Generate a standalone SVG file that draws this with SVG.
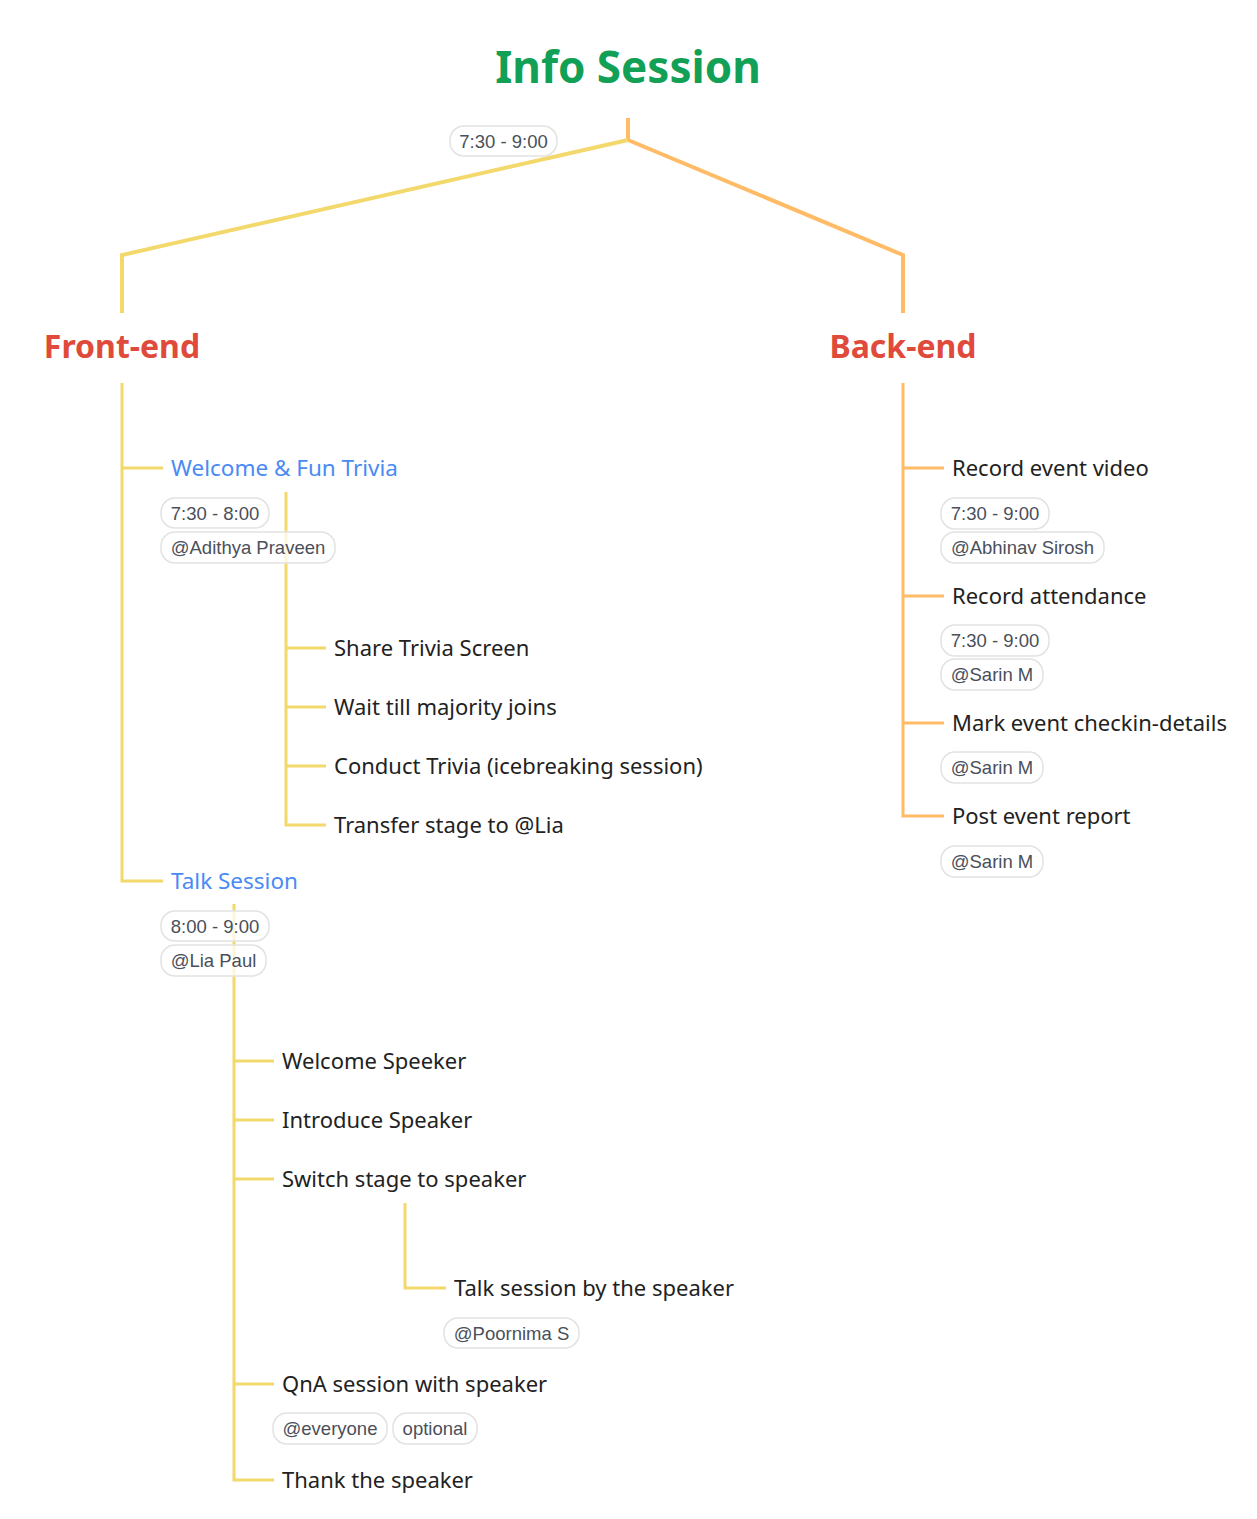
<svg xmlns="http://www.w3.org/2000/svg" width="1257" height="1519" viewBox="0 0 1257 1519">
<style>
.y{fill:none;stroke:#F3D86C;stroke-width:3}
.o{fill:none;stroke:#FFBB66;stroke-width:3}
.yt{fill:none;stroke:#F3D86C;stroke-width:4}
.ot{fill:none;stroke:#FFBB66;stroke-width:4}
.title{font-family:"Noto Sans","Open Sans",sans-serif;font-weight:bold;font-size:44px;fill:#11A055}
.main{font-family:"Noto Sans","Open Sans",sans-serif;font-weight:bold;font-size:32px;fill:#E04A3A}
.sub{font-family:"Noto Sans","Open Sans",sans-serif;font-size:22.5px;fill:#4A8AF4}
.item{font-family:"Noto Sans","Open Sans",sans-serif;font-size:22px;fill:#222}
.tag rect{fill:#fff;fill-opacity:0.75;stroke:#E2E2E2;stroke-width:1.5}
.tag text{font-family:"Liberation Sans",Arial,sans-serif;font-size:18.5px;fill:#4A4F5A}
</style>
<rect width="1257" height="1519" fill="#fff"/>
<g id="connectors">
<path class="ot" d="M628 118 V140 L903 255 V313"/>
<path class="yt" d="M628 140 L122 255 V313"/>
<path class="y" d="M122 383 V881 H163 M122 468 H163"/>
<path class="y" d="M286 492 V825 H326 M286 648 H326 M286 707 H326 M286 766 H326"/>
<path class="y" d="M234 904 V1480 H274 M234 1061 H274 M234 1120 H274 M234 1179 H274 M234 1384 H274"/>
<path class="y" d="M405 1203 V1288 H446"/>
<path class="o" d="M903 383 V816 H944 M903 468 H944 M903 596 H944 M903 723 H944"/>
</g>
<g id="root"><text class="title" x="628" y="83" text-anchor="middle">Info Session</text></g>
<g id="root-tag" class="tag"><rect x="450" y="126" width="107" height="30" rx="14"/><text x="503.5" y="147.5" text-anchor="middle">7:30 - 9:00</text></g>
<g id="frontend"><text class="main" x="122" y="358" text-anchor="middle">Front-end</text></g>
<g id="backend"><text class="main" x="903" y="358" text-anchor="middle">Back-end</text></g>
<g id="welcome"><text class="sub" x="171" y="476">Welcome &amp; Fun Trivia</text>
<g class="tag"><rect x="161" y="498" width="108" height="30" rx="14"/><text x="215" y="519.5" text-anchor="middle">7:30 - 8:00</text>
<rect x="161" y="532" width="174" height="31" rx="14"/><text x="248" y="554" text-anchor="middle">@Adithya Praveen</text></g></g>
<g id="share"><text class="item" x="334" y="656">Share Trivia Screen</text></g>
<g id="wait"><text class="item" x="334" y="715">Wait till majority joins</text></g>
<g id="conduct"><text class="item" x="334" y="774">Conduct Trivia (icebreaking session)</text></g>
<g id="transfer"><text class="item" x="334" y="833">Transfer stage to @Lia</text></g>
<g id="talk"><text class="sub" x="171" y="889">Talk Session</text>
<g class="tag"><rect x="161" y="911" width="108" height="30" rx="14"/><text x="215" y="932.5" text-anchor="middle">8:00 - 9:00</text>
<rect x="161" y="945" width="105" height="31" rx="14"/><text x="213.5" y="967" text-anchor="middle">@Lia Paul</text></g></g>
<g id="welcome-speaker"><text class="item" x="282" y="1069">Welcome Speeker</text></g>
<g id="introduce"><text class="item" x="282" y="1128">Introduce Speaker</text></g>
<g id="switch"><text class="item" x="282" y="1187">Switch stage to speaker</text></g>
<g id="talk-by"><text class="item" x="454" y="1296">Talk session by the speaker</text>
<g class="tag"><rect x="444" y="1318" width="135" height="30" rx="14"/><text x="511.5" y="1339.5" text-anchor="middle">@Poornima S</text></g></g>
<g id="qna"><text class="item" x="282" y="1392">QnA session with speaker</text>
<g class="tag"><rect x="273" y="1413" width="114" height="31" rx="14"/><text x="330" y="1435" text-anchor="middle">@everyone</text>
<rect x="393" y="1413" width="84" height="31" rx="14"/><text x="435" y="1435" text-anchor="middle">optional</text></g></g>
<g id="thank"><text class="item" x="282" y="1488">Thank the speaker</text></g>
<g id="record-video"><text class="item" x="952" y="476">Record event video</text>
<g class="tag"><rect x="941" y="498" width="108" height="31" rx="14"/><text x="995" y="520" text-anchor="middle">7:30 - 9:00</text>
<rect x="941" y="532" width="163" height="31" rx="14"/><text x="1022.5" y="554" text-anchor="middle">@Abhinav Sirosh</text></g></g>
<g id="record-attendance"><text class="item" x="952" y="604">Record attendance</text>
<g class="tag"><rect x="941" y="625" width="108" height="31" rx="14"/><text x="995" y="647" text-anchor="middle">7:30 - 9:00</text>
<rect x="941" y="659" width="102" height="31" rx="14"/><text x="992" y="681" text-anchor="middle">@Sarin M</text></g></g>
<g id="mark"><text class="item" x="952" y="731">Mark event checkin-details</text>
<g class="tag"><rect x="941" y="752" width="102" height="31" rx="14"/><text x="992" y="774" text-anchor="middle">@Sarin M</text></g></g>
<g id="post"><text class="item" x="952" y="824">Post event report</text>
<g class="tag"><rect x="941" y="846" width="102" height="31" rx="14"/><text x="992" y="868" text-anchor="middle">@Sarin M</text></g></g>
</svg>
